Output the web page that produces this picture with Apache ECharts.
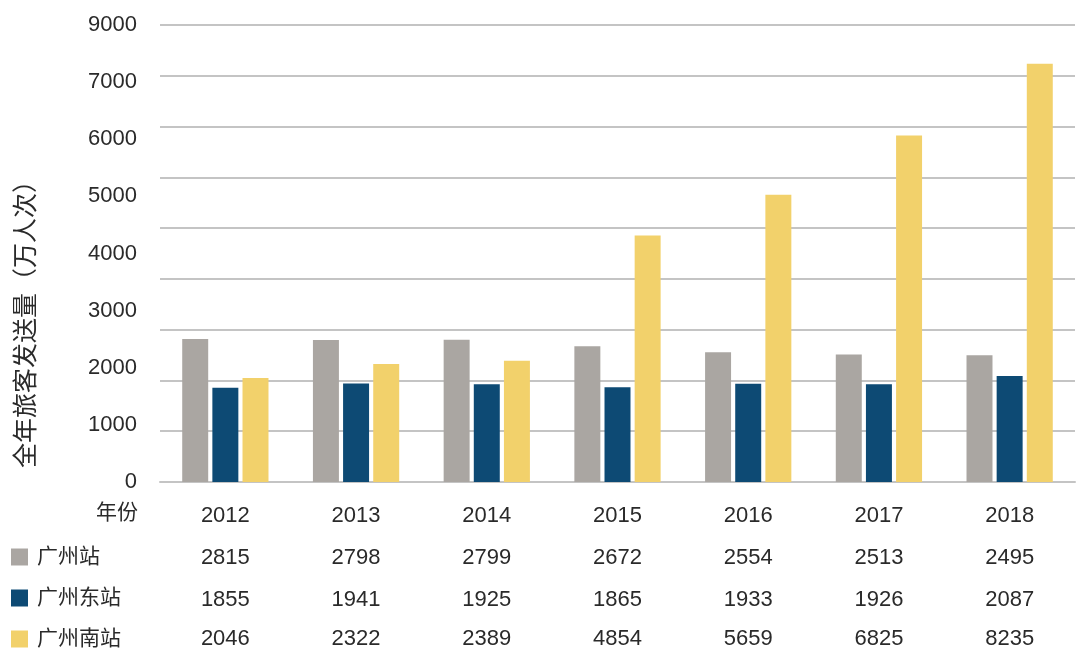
<!DOCTYPE html>
<html>
<head>
<meta charset="utf-8">
<script src="https://cdn.jsdelivr.net/npm/echarts@6/dist/echarts.min.js"></script>
<style>
html,body{margin:0;padding:0;background:#fff;}
#main{width:1080px;height:653px;}
</style>
</head>
<body>
<div id="main"></div>
<script>
var years = ['2012','2013','2014','2015','2016','2017','2018'];
var gzStation = [2815, 2798, 2799, 2672, 2554, 2513, 2495];
var gzEast = [1855, 1941, 1925, 1865, 1933, 1926, 2087];
var gzSouth = [2046, 2322, 2389, 4854, 5659, 6825, 8235];
var yTickLabels = ['0','1000','2000','3000','4000','5000','6000','7000','9000'];
var seriesNames = ['广州站','广州东站','广州南站'];
var yTitle = '全年旅客发送量（万人次）';
var rowTitle = '年份';
var colors = ['#aaa6a2','#0d4a74','#f2d16b'];

var FONT = '"Liberation Sans", "Noto Sans CJK SC", Arial, sans-serif';
var TXT = '#2a2a2a';

function rowAxis(data, offset, first) {
  return {
    type: 'category',
    data: data.map(String),
    position: 'bottom',
    offset: offset,
    axisLine: first ? { show: true, lineStyle: { color: '#c4c4c4', width: 2 } } : { show: false },
    axisTick: { show: false },
    axisLabel: { margin: 23, fontSize: 22, color: TXT, fontFamily: FONT, interval: 0 },
    splitLine: { show: false }
  };
}

var chart = echarts.init(document.getElementById('main'), null, { renderer: 'canvas' });
chart.setOption({
  animation: false,
  color: colors,
  textStyle: { fontFamily: FONT },
  grid: { left: 160, right: 5, top: 25, bottom: 171 },
  legend: {
    orient: 'vertical',
    left: 11,
    top: 546,
    height: 120,
    padding: 0,
    icon: 'rect',
    itemWidth: 17,
    itemHeight: 17,
    itemGap: 19,
    data: seriesNames,
    textStyle: { fontSize: 21, color: TXT, fontFamily: FONT, lineHeight: 22, padding: [0, 0, 0, 4] }
  },
  graphic: [{
    type: 'text',
    right: 1080 - 138,
    top: 503,
    style: { text: rowTitle, fontSize: 21, fill: TXT, fontFamily: FONT, textAlign: 'right' }
  }, {
    type: 'text',
    x: 27,
    y: 318,
    rotation: Math.PI / 2,
    style: { text: yTitle, fontSize: 25, fill: TXT, fontFamily: FONT, textAlign: 'center', textVerticalAlign: 'middle' }
  }],
  xAxis: [
    rowAxis(years, 0, true),
    rowAxis(gzStation, 42, false),
    rowAxis(gzEast, 84, false),
    rowAxis(gzSouth, 123, false)
  ],
  yAxis: [{
    type: 'value',
    min: 0,
    max: 9000,
    interval: 1000,
    axisLine: { show: false },
    axisTick: { show: false },
    axisLabel: { show: false },
    splitLine: { show: true, lineStyle: { color: '#c4c4c4', width: 2 } }
  }, {
    type: 'category',
    data: yTickLabels,
    boundaryGap: false,
    position: 'left',
    axisLine: { show: false },
    axisTick: { show: false },
    splitLine: { show: false },
    axisLabel: { margin: 23, fontSize: 22, color: TXT, fontFamily: FONT, interval: 0 }
  }],
  series: [
    { name: seriesNames[0], type: 'bar', data: gzStation, xAxisIndex: 0, yAxisIndex: 0, barGap: '16%', barCategoryGap: '34%', itemStyle: { color: colors[0] } },
    { name: seriesNames[1], type: 'bar', data: gzEast, xAxisIndex: 0, yAxisIndex: 0, barGap: '16%', barCategoryGap: '34%', itemStyle: { color: colors[1] } },
    { name: seriesNames[2], type: 'bar', data: gzSouth, xAxisIndex: 0, yAxisIndex: 0, barGap: '16%', barCategoryGap: '34%', itemStyle: { color: colors[2] } }
  ]
});
</script>
</body>
</html>
